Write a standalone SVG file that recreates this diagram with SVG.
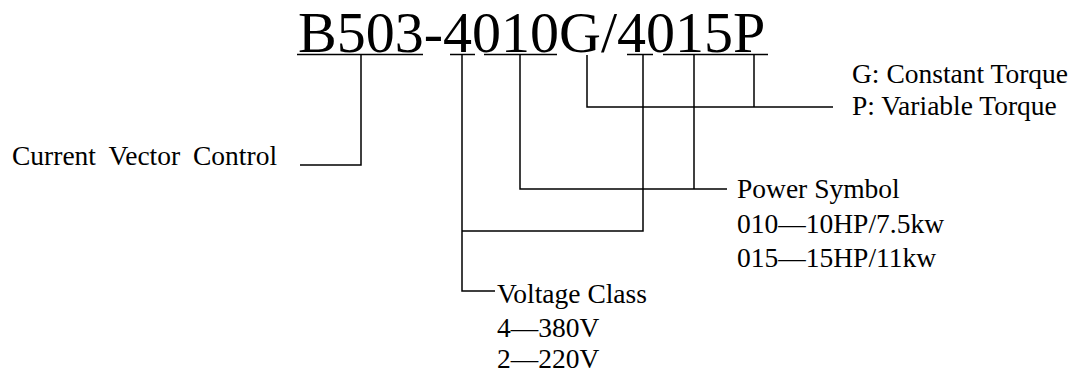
<svg xmlns="http://www.w3.org/2000/svg" width="1080" height="390" viewBox="0 0 1080 390">
<style>
text{font-family:"Liberation Serif","Times New Roman",serif;fill:#000;}
.t{font-size:27.5px;}
.title{font-size:58px;}
.ln{stroke:#000;stroke-width:1.5;fill:none;}
</style>
<rect width="1080" height="390" fill="#fff"/>
<g id="title">
<text class="title" x="298" y="52">B503-4010G/4015P</text>
<g class="ln">
<line x1="297" y1="54.5" x2="423" y2="54.5"/>
<line x1="450" y1="54.5" x2="475" y2="54.5"/>
<line x1="484" y1="54.5" x2="557" y2="54.5"/>
<line x1="627" y1="54.5" x2="653" y2="54.5"/>
<line x1="663" y1="54.5" x2="768" y2="54.5"/>
</g>
</g>
<g id="connectors" class="ln">
<polyline points="361,55 361,165 300,165"/>
<polyline points="462,55 462,291 495,291"/>
<polyline points="520,55 520,189 727,189"/>
<line x1="694" y1="55" x2="694" y2="189"/>
<polyline points="643,55 643,231 462,231"/>
<polyline points="587,55 587,107 833,107"/>
<line x1="754" y1="55" x2="754" y2="107"/>
</g>
<g id="torque">
<text class="t" x="852" y="83">G: Constant Torque</text>
<text class="t" x="852" y="115">P: Variable Torque</text>
</g>
<g id="control">
<text class="t" x="12" y="165" word-spacing="6">Current Vector Control</text>
</g>
<g id="power">
<text class="t" x="737" y="198">Power Symbol</text>
<text class="t" x="737" y="233">010—10HP/7.5kw</text>
<text class="t" x="737" y="267">015—15HP/11kw</text>
</g>
<g id="voltage">
<text class="t" x="497" y="303">Voltage Class</text>
<text class="t" x="497" y="337">4—380V</text>
<text class="t" x="497" y="368">2—220V</text>
</g>
</svg>
